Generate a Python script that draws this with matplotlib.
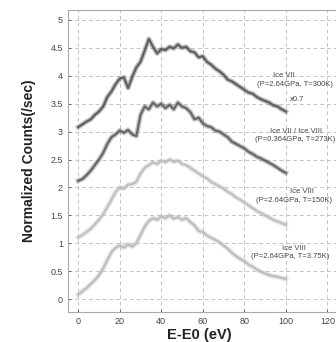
import matplotlib.pyplot as plt

plt.rcParams['font.family'] = ['Liberation Sans', 'DejaVu Sans']

energy = list(range(0, 101, 2))

ice7_300k = [3.08, 3.13, 3.18, 3.22, 3.30, 3.36, 3.45, 3.62, 3.72, 3.85,
             3.95, 3.97, 3.78, 3.98, 4.15, 4.25, 4.45, 4.66, 4.52, 4.40,
             4.48, 4.46, 4.52, 4.49, 4.56, 4.50, 4.52, 4.44, 4.42, 4.33,
             4.35, 4.25, 4.20, 4.13, 4.08, 4.02, 3.93, 3.90, 3.85, 3.80,
             3.75, 3.70, 3.68, 3.62, 3.58, 3.55, 3.52, 3.47, 3.45, 3.40, 3.36]

ice78_273k = [2.12, 2.15, 2.22, 2.30, 2.40, 2.50, 2.62, 2.78, 2.90, 2.95,
              3.02, 2.98, 3.03, 2.95, 2.92, 3.30, 3.45, 3.40, 3.52, 3.45,
              3.50, 3.42, 3.48, 3.40, 3.52, 3.45, 3.42, 3.35, 3.22, 3.25,
              3.15, 3.10, 3.08, 3.02, 3.00, 2.95, 2.90, 2.82, 2.78, 2.74,
              2.70, 2.64, 2.60, 2.55, 2.52, 2.48, 2.44, 2.40, 2.35, 2.30, 2.26]

ice8_150k = [1.10, 1.15, 1.20, 1.26, 1.34, 1.42, 1.52, 1.65, 1.78, 1.92,
             2.00, 1.98, 2.05, 2.06, 2.10, 2.25, 2.35, 2.40, 2.45, 2.42,
             2.48, 2.45, 2.50, 2.46, 2.48, 2.42, 2.40, 2.35, 2.30, 2.25,
             2.20, 2.16, 2.10, 2.06, 2.02, 1.98, 1.92, 1.88, 1.82, 1.78,
             1.73, 1.68, 1.63, 1.58, 1.54, 1.50, 1.46, 1.42, 1.39, 1.36, 1.33]

ice8_375k = [0.08, 0.14, 0.20, 0.27, 0.34, 0.43, 0.55, 0.70, 0.84, 0.92,
             0.96, 0.92, 0.98, 0.94, 1.00, 1.15, 1.30, 1.40, 1.45, 1.42,
             1.48, 1.45, 1.50, 1.44, 1.47, 1.42, 1.45, 1.38, 1.32, 1.22,
             1.20, 1.14, 1.10, 1.06, 1.02, 0.96, 0.90, 0.83, 0.77, 0.72,
             0.68, 0.62, 0.58, 0.53, 0.49, 0.46, 0.43, 0.41, 0.40, 0.38, 0.36]

fig = plt.figure(figsize=(3.36, 3.42), dpi=100)
ax = fig.add_axes([0.202, 0.088, 0.834, 0.883])

# fuzzy look: wide faint band plus thinner core line
for vals, c in [(ice7_300k, '#555555'), (ice78_273k, '#5e5e5e'),
                (ice8_150k, '#bcbcbc'), (ice8_375k, '#bababa')]:
    ax.plot(energy, vals, color=c, lw=3.6, alpha=0.35)
    ax.plot(energy, vals, color=c, lw=1.6, alpha=0.9)

fs = 5.5
ax.text(99.3, 4.01, 'Ice VII', fontsize=fs, ha='center', va='center', color='#444')
ax.text(86.3, 3.85, '(P=2.64GPa, T=300K)', fontsize=fs, ha='left', va='center', color='#444')
ax.text(102, 3.57, 'x0.7', fontsize=fs, ha='left', va='center', color='#444')
ax.text(92.5, 3.01, 'Ice VII / Ice VIII', fontsize=fs, ha='left', va='center', color='#444')
ax.text(85.3, 2.85, '(P=0.364GPa, T=273K)', fontsize=fs, ha='left', va='center', color='#444')
ax.text(102.2, 1.92, 'Ice VIII', fontsize=fs, ha='left', va='center', color='#444')
ax.text(85.8, 1.77, '(P=2.64GPa, T=150K)', fontsize=fs, ha='left', va='center', color='#444')
ax.text(98.3, 0.91, 'Ice VIII', fontsize=fs, ha='left', va='center', color='#444')
ax.text(83.4, 0.77, '(P=2.64GPa, T=3.75K)', fontsize=fs, ha='left', va='center', color='#444')

ax.set_xlim(-5, 130)
ax.set_ylim(-0.23, 5.18)
ax.set_xticks([0, 20, 40, 60, 80, 100, 120])
ax.set_yticks([0, 0.5, 1, 1.5, 2, 2.5, 3, 3.5, 4, 4.5, 5])
ax.set_yticklabels(['0', '0.5', '1', '1.5', '2', '2.5', '3', '3.5', '4', '4.5', '5'])
ax.tick_params(labelsize=6.5, colors='#444', direction='in', length=2, width=0.5)
ax.grid(True, ls=(0, (4, 3)), color='#c4c4c4', lw=0.7)
for s in ax.spines.values():
    s.set_color('#aaaaaa')
    s.set_linewidth(0.8)

ax.set_xlabel('E-E0 (eV)', fontsize=10.5, fontweight='bold', color='#222')
ax.set_ylabel('Normalized Counts(/sec)', fontsize=10, fontweight='bold', color='#222')
ax.xaxis.set_label_coords(0.47, -0.052)
ax.yaxis.set_label_coords(-0.115, 0.5)

fig.savefig('out.png', dpi=100)
